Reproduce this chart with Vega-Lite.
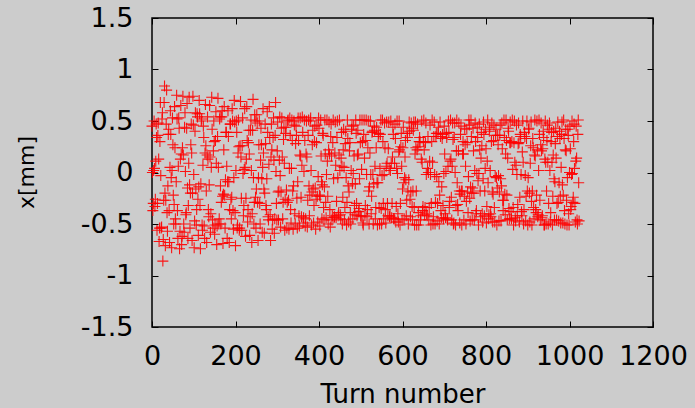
{
  "$schema": "https://vega.github.io/schema/vega-lite/v6.json",
  "width": 501,
  "height": 309,
  "autosize": {"type": "none"},
  "padding": {"left": 152, "top": 18, "right": 42, "bottom": 81},
  "background": "#cccccc",
  "config": {
    "view": {"stroke": "#000000", "strokeWidth": 1.5},
    "font": "DejaVu Sans",
    "axis": {
      "grid": false,
      "domain": false,
      "tickColor": "#000000",
      "tickWidth": 1,
      "tickSize": -6,
      "labelFont": "DejaVu Sans",
      "labelFontSize": 27,
      "labelColor": "#000000",
      "labelFlush": false,
      "labelOverlap": false,
      "titleFont": "DejaVu Sans",
      "titleFontWeight": "normal",
      "titleColor": "#000000"
    }
  },
  "data": {"values": [
{"turn":0,"x":0.45},{"turn":1,"x":0.00},{"turn":2,"x":-0.37},{"turn":3,"x":-0.30},{"turn":4,"x":0.02},
{"turn":5,"x":0.50},{"turn":6,"x":0.04},{"turn":7,"x":-0.33},{"turn":8,"x":-0.26},{"turn":9,"x":0.11},
{"turn":10,"x":0.47},{"turn":11,"x":0.34},{"turn":12,"x":-0.56},{"turn":13,"x":-0.30},{"turn":14,"x":0.36},
{"turn":15,"x":0.48},{"turn":16,"x":0.13},{"turn":17,"x":-0.67},{"turn":18,"x":-0.54},{"turn":19,"x":0.30},
{"turn":20,"x":0.68},{"turn":21,"x":-0.03},{"turn":22,"x":-0.54},{"turn":23,"x":-0.53},{"turn":24,"x":0.52},
{"turn":25,"x":0.58},{"turn":26,"x":-0.86},{"turn":27,"x":-0.65},{"turn":28,"x":-0.27},{"turn":29,"x":0.68},
{"turn":30,"x":0.84},{"turn":31,"x":-0.20},{"turn":32,"x":-0.71},{"turn":33,"x":-0.27},{"turn":34,"x":0.47},
{"turn":35,"x":0.80},{"turn":36,"x":-0.39},{"turn":37,"x":-0.57},{"turn":38,"x":-0.13},{"turn":39,"x":0.37},
{"turn":40,"x":0.42},{"turn":41,"x":-0.37},{"turn":42,"x":-0.68},{"turn":43,"x":0.05},{"turn":44,"x":0.60},
{"turn":45,"x":0.37},{"turn":46,"x":-0.05},{"turn":47,"x":-0.73},{"turn":48,"x":0.02},{"turn":49,"x":0.53},
{"turn":50,"x":0.27},{"turn":51,"x":-0.22},{"turn":52,"x":-0.50},{"turn":53,"x":-0.31},{"turn":54,"x":0.64},
{"turn":55,"x":0.24},{"turn":56,"x":-0.45},{"turn":57,"x":-0.50},{"turn":58,"x":-0.09},{"turn":59,"x":0.75},
{"turn":60,"x":0.52},{"turn":61,"x":-0.37},{"turn":62,"x":-0.64},{"turn":63,"x":0.06},{"turn":64,"x":0.53},
{"turn":65,"x":0.43},{"turn":66,"x":-0.74},{"turn":67,"x":-0.57},{"turn":68,"x":0.13},{"turn":69,"x":0.65},
{"turn":70,"x":0.18},{"turn":71,"x":-0.70},{"turn":72,"x":-0.62},{"turn":73,"x":0.24},{"turn":74,"x":0.74},
{"turn":75,"x":0.17},{"turn":76,"x":-0.50},{"turn":77,"x":-0.58},{"turn":78,"x":0.44},{"turn":79,"x":0.58},
{"turn":80,"x":0.01},{"turn":81,"x":-0.41},{"turn":82,"x":-0.39},{"turn":83,"x":0.43},{"turn":84,"x":0.67},
{"turn":85,"x":-0.15},{"turn":86,"x":-0.64},{"turn":87,"x":-0.32},{"turn":88,"x":0.09},{"turn":89,"x":0.73},
{"turn":90,"x":-0.12},{"turn":91,"x":-0.54},{"turn":92,"x":-0.20},{"turn":93,"x":0.27},{"turn":94,"x":0.47},
{"turn":95,"x":0.19},{"turn":96,"x":-0.66},{"turn":97,"x":-0.20},{"turn":98,"x":0.74},{"turn":99,"x":0.46},
{"turn":100,"x":-0.02},{"turn":101,"x":-0.73},{"turn":102,"x":-0.47},{"turn":103,"x":0.40},{"turn":104,"x":0.58},
{"turn":105,"x":-0.16},{"turn":106,"x":-0.51},{"turn":107,"x":-0.36},{"turn":108,"x":0.57},{"turn":109,"x":0.54},
{"turn":110,"x":-0.26},{"turn":111,"x":-0.61},{"turn":112,"x":-0.14},{"turn":113,"x":0.70},{"turn":114,"x":0.57},
{"turn":115,"x":-0.32},{"turn":116,"x":-0.74},{"turn":117,"x":-0.11},{"turn":118,"x":0.50},{"turn":119,"x":0.52},
{"turn":120,"x":-0.51},{"turn":121,"x":-0.56},{"turn":122,"x":0.07},{"turn":123,"x":0.45},{"turn":124,"x":0.34},
{"turn":125,"x":-0.52},{"turn":126,"x":-0.64},{"turn":127,"x":0.19},{"turn":128,"x":0.66},{"turn":129,"x":0.26},
{"turn":130,"x":-0.18},{"turn":131,"x":-0.68},{"turn":132,"x":0.17},{"turn":133,"x":0.54},{"turn":134,"x":0.13},
{"turn":135,"x":-0.36},{"turn":136,"x":-0.43},{"turn":137,"x":-0.12},{"turn":138,"x":0.65},{"turn":139,"x":0.15},
{"turn":140,"x":-0.58},{"turn":141,"x":-0.40},{"turn":142,"x":0.05},{"turn":143,"x":0.73},{"turn":144,"x":0.42},
{"turn":145,"x":-0.46},{"turn":146,"x":-0.54},{"turn":147,"x":0.21},{"turn":148,"x":0.50},{"turn":149,"x":0.30},
{"turn":150,"x":-0.60},{"turn":151,"x":-0.51},{"turn":152,"x":0.31},{"turn":153,"x":0.59},{"turn":154,"x":0.09},
{"turn":155,"x":-0.70},{"turn":156,"x":-0.52},{"turn":157,"x":0.35},{"turn":158,"x":0.72},{"turn":159,"x":0.05},
{"turn":160,"x":-0.50},{"turn":161,"x":-0.45},{"turn":162,"x":0.52},{"turn":163,"x":0.54},{"turn":164,"x":-0.13},
{"turn":165,"x":-0.50},{"turn":166,"x":-0.29},{"turn":167,"x":0.54},{"turn":168,"x":0.60},{"turn":169,"x":-0.23},
{"turn":170,"x":-0.69},{"turn":171,"x":-0.21},{"turn":172,"x":0.22},{"turn":173,"x":0.64},{"turn":174,"x":-0.22},
{"turn":175,"x":-0.54},{"turn":176,"x":-0.07},{"turn":177,"x":0.39},{"turn":178,"x":0.39},{"turn":179,"x":0.06},
{"turn":180,"x":-0.64},{"turn":181,"x":-0.09},{"turn":182,"x":0.60},{"turn":183,"x":0.35},{"turn":184,"x":-0.09},
{"turn":185,"x":-0.68},{"turn":186,"x":-0.36},{"turn":187,"x":0.47},{"turn":188,"x":0.47},{"turn":189,"x":-0.26},
{"turn":190,"x":-0.45},{"turn":191,"x":-0.24},{"turn":192,"x":0.62},{"turn":193,"x":0.50},{"turn":194,"x":-0.37},
{"turn":195,"x":-0.55},{"turn":196,"x":-0.05},{"turn":197,"x":0.70},{"turn":198,"x":0.49},{"turn":199,"x":-0.39},
{"turn":200,"x":-0.71},{"turn":201,"x":0.02},{"turn":202,"x":0.50},{"turn":203,"x":0.39},{"turn":204,"x":-0.54},
{"turn":205,"x":-0.51},{"turn":206,"x":0.19},{"turn":207,"x":0.51},{"turn":208,"x":0.25},{"turn":209,"x":-0.56},
{"turn":210,"x":-0.54},{"turn":211,"x":0.26},{"turn":212,"x":0.69},{"turn":213,"x":0.15},{"turn":214,"x":-0.25},
{"turn":215,"x":-0.56},{"turn":216,"x":0.26},{"turn":217,"x":0.53},{"turn":218,"x":-0.01},{"turn":219,"x":-0.42},
{"turn":220,"x":-0.32},{"turn":221,"x":0.03},{"turn":222,"x":0.62},{"turn":223,"x":0.05},{"turn":224,"x":-0.62},
{"turn":225,"x":-0.25},{"turn":226,"x":0.13},{"turn":227,"x":0.64},{"turn":228,"x":0.31},{"turn":229,"x":-0.48},
{"turn":230,"x":-0.36},{"turn":231,"x":0.29},{"turn":232,"x":0.41},{"turn":233,"x":0.18},{"turn":234,"x":-0.61},
{"turn":235,"x":-0.43},{"turn":236,"x":0.41},{"turn":237,"x":0.51},{"turn":238,"x":0.02},{"turn":239,"x":-0.68},
{"turn":240,"x":-0.40},{"turn":241,"x":0.41},{"turn":242,"x":0.71},{"turn":243,"x":-0.05},{"turn":244,"x":-0.50},
{"turn":245,"x":-0.29},{"turn":246,"x":0.56},{"turn":247,"x":0.50},{"turn":248,"x":-0.24},{"turn":249,"x":-0.54},
{"turn":250,"x":-0.16},{"turn":251,"x":0.56},{"turn":252,"x":0.48},{"turn":253,"x":-0.29},{"turn":254,"x":-0.66},
{"turn":255,"x":-0.05},{"turn":256,"x":0.27},{"turn":257,"x":0.50},{"turn":258,"x":-0.30},{"turn":259,"x":-0.50},
{"turn":260,"x":0.12},{"turn":261,"x":0.43},{"turn":262,"x":0.27},{"turn":263,"x":-0.06},{"turn":264,"x":-0.58},
{"turn":265,"x":0.05},{"turn":266,"x":0.62},{"turn":267,"x":0.19},{"turn":268,"x":-0.16},{"turn":269,"x":-0.59},
{"turn":270,"x":-0.20},{"turn":271,"x":0.47},{"turn":272,"x":0.28},{"turn":273,"x":-0.32},{"turn":274,"x":-0.36},
{"turn":275,"x":-0.06},{"turn":276,"x":0.59},{"turn":277,"x":0.39},{"turn":278,"x":-0.43},{"turn":279,"x":-0.46},
{"turn":280,"x":0.08},{"turn":281,"x":0.64},{"turn":282,"x":0.34},{"turn":283,"x":-0.41},{"turn":284,"x":-0.66},
{"turn":285,"x":0.15},{"turn":286,"x":0.47},{"turn":287,"x":0.22},{"turn":288,"x":-0.55},{"turn":289,"x":-0.46},
{"turn":290,"x":0.34},{"turn":291,"x":0.53},{"turn":292,"x":0.12},{"turn":293,"x":-0.59},{"turn":294,"x":-0.45},
{"turn":295,"x":0.36},{"turn":296,"x":0.68},{"turn":297,"x":0.01},{"turn":298,"x":-0.30},{"turn":299,"x":-0.46},
{"turn":300,"x":0.21},{"turn":301,"x":0.49},{"turn":302,"x":-0.19},{"turn":303,"x":-0.46},{"turn":304,"x":-0.18},
{"turn":305,"x":0.12},{"turn":306,"x":0.54},{"turn":307,"x":-0.03},{"turn":308,"x":-0.53},{"turn":309,"x":-0.19},
{"turn":310,"x":0.43},{"turn":311,"x":0.53},{"turn":312,"x":0.15},{"turn":313,"x":-0.45},{"turn":314,"x":-0.29},
{"turn":315,"x":0.32},{"turn":316,"x":0.44},{"turn":317,"x":0.09},{"turn":318,"x":-0.56},{"turn":319,"x":-0.26},
{"turn":320,"x":0.38},{"turn":321,"x":0.44},{"turn":322,"x":-0.17},{"turn":323,"x":-0.54},{"turn":324,"x":-0.29},
{"turn":325,"x":0.50},{"turn":326,"x":0.51},{"turn":327,"x":-0.27},{"turn":328,"x":-0.55},{"turn":329,"x":0.04},
{"turn":330,"x":0.53},{"turn":331,"x":0.36},{"turn":332,"x":-0.36},{"turn":333,"x":-0.49},{"turn":334,"x":0.04},
{"turn":335,"x":0.51},{"turn":336,"x":0.31},{"turn":337,"x":-0.18},{"turn":338,"x":-0.55},{"turn":339,"x":-0.13},
{"turn":340,"x":0.50},{"turn":341,"x":0.46},{"turn":342,"x":-0.40},{"turn":343,"x":-0.50},{"turn":344,"x":0.28},
{"turn":345,"x":0.45},{"turn":346,"x":0.36},{"turn":347,"x":-0.25},{"turn":348,"x":-0.54},{"turn":349,"x":-0.09},
{"turn":350,"x":0.53},{"turn":351,"x":0.31},{"turn":352,"x":-0.42},{"turn":353,"x":-0.52},{"turn":354,"x":0.17},
{"turn":355,"x":0.53},{"turn":356,"x":0.16},{"turn":357,"x":-0.24},{"turn":358,"x":-0.43},{"turn":359,"x":0.07},
{"turn":360,"x":0.54},{"turn":361,"x":0.39},{"turn":362,"x":-0.49},{"turn":363,"x":-0.44},{"turn":364,"x":0.01},
{"turn":365,"x":0.51},{"turn":366,"x":0.31},{"turn":367,"x":-0.52},{"turn":368,"x":-0.45},{"turn":369,"x":0.18},
{"turn":370,"x":0.50},{"turn":371,"x":0.15},{"turn":372,"x":-0.53},{"turn":373,"x":-0.27},{"turn":374,"x":0.36},
{"turn":375,"x":0.51},{"turn":376,"x":-0.13},{"turn":377,"x":-0.42},{"turn":378,"x":-0.22},{"turn":379,"x":0.50},
{"turn":380,"x":0.53},{"turn":381,"x":0.02},{"turn":382,"x":-0.51},{"turn":383,"x":-0.19},{"turn":384,"x":0.27},
{"turn":385,"x":0.41},{"turn":386,"x":-0.16},{"turn":387,"x":-0.49},{"turn":388,"x":-0.32},{"turn":389,"x":0.30},
{"turn":390,"x":0.45},{"turn":391,"x":-0.15},{"turn":392,"x":-0.55},{"turn":393,"x":-0.26},{"turn":394,"x":0.29},
{"turn":395,"x":0.46},{"turn":396,"x":-0.23},{"turn":397,"x":-0.48},{"turn":398,"x":-0.04},{"turn":399,"x":0.53},
{"turn":400,"x":0.43},{"turn":401,"x":-0.22},{"turn":402,"x":-0.52},{"turn":403,"x":-0.23},{"turn":404,"x":0.51},
{"turn":405,"x":0.16},{"turn":406,"x":-0.09},{"turn":407,"x":-0.45},{"turn":408,"x":-0.12},{"turn":409,"x":0.38},
{"turn":410,"x":0.36},{"turn":411,"x":-0.34},{"turn":412,"x":-0.46},{"turn":413,"x":-0.14},{"turn":414,"x":0.51},
{"turn":415,"x":0.18},{"turn":416,"x":-0.29},{"turn":417,"x":-0.44},{"turn":418,"x":-0.02},{"turn":419,"x":0.51},
{"turn":420,"x":0.11},{"turn":421,"x":-0.23},{"turn":422,"x":-0.50},{"turn":423,"x":0.22},{"turn":424,"x":0.49},
{"turn":425,"x":0.18},{"turn":426,"x":-0.36},{"turn":427,"x":-0.53},{"turn":428,"x":0.35},{"turn":429,"x":0.47},
{"turn":430,"x":0.16},{"turn":431,"x":-0.46},{"turn":432,"x":-0.42},{"turn":433,"x":0.29},{"turn":434,"x":0.51},
{"turn":435,"x":-0.06},{"turn":436,"x":-0.44},{"turn":437,"x":-0.43},{"turn":438,"x":0.19},{"turn":439,"x":0.49},
{"turn":440,"x":0.07},{"turn":441,"x":-0.44},{"turn":442,"x":-0.28},{"turn":443,"x":0.34},{"turn":444,"x":0.50},
{"turn":445,"x":-0.05},{"turn":446,"x":-0.42},{"turn":447,"x":-0.39},{"turn":448,"x":0.17},{"turn":449,"x":0.51},
{"turn":450,"x":0.02},{"turn":451,"x":-0.41},{"turn":452,"x":-0.45},{"turn":453,"x":0.14},{"turn":454,"x":0.39},
{"turn":455,"x":0.06},{"turn":456,"x":-0.50},{"turn":457,"x":-0.24},{"turn":458,"x":0.22},{"turn":459,"x":0.42},
{"turn":460,"x":0.05},{"turn":461,"x":-0.46},{"turn":462,"x":-0.34},{"turn":463,"x":0.28},{"turn":464,"x":0.40},
{"turn":465,"x":-0.05},{"turn":466,"x":-0.51},{"turn":467,"x":-0.29},{"turn":468,"x":0.51},{"turn":469,"x":0.33},
{"turn":470,"x":-0.13},{"turn":471,"x":-0.48},{"turn":472,"x":-0.19},{"turn":473,"x":0.21},{"turn":474,"x":0.29},
{"turn":475,"x":-0.39},{"turn":476,"x":-0.50},{"turn":477,"x":0.02},{"turn":478,"x":0.42},{"turn":479,"x":0.45},
{"turn":480,"x":-0.11},{"turn":481,"x":-0.45},{"turn":482,"x":-0.01},{"turn":483,"x":0.46},{"turn":484,"x":0.16},
{"turn":485,"x":-0.32},{"turn":486,"x":-0.41},{"turn":487,"x":-0.11},{"turn":488,"x":0.51},{"turn":489,"x":0.38},
{"turn":490,"x":-0.30},{"turn":491,"x":-0.42},{"turn":492,"x":0.17},{"turn":493,"x":0.41},{"turn":494,"x":0.18},
{"turn":495,"x":-0.38},{"turn":496,"x":-0.35},{"turn":497,"x":-0.06},{"turn":498,"x":0.51},{"turn":499,"x":0.29},
{"turn":500,"x":-0.42},{"turn":501,"x":-0.43},{"turn":502,"x":0.03},{"turn":503,"x":0.51},{"turn":504,"x":0.30},
{"turn":505,"x":-0.49},{"turn":506,"x":-0.51},{"turn":507,"x":0.37},{"turn":508,"x":0.51},{"turn":509,"x":0.14},
{"turn":510,"x":-0.42},{"turn":511,"x":-0.32},{"turn":512,"x":0.31},{"turn":513,"x":0.51},{"turn":514,"x":-0.02},
{"turn":515,"x":-0.43},{"turn":516,"x":-0.36},{"turn":517,"x":0.24},{"turn":518,"x":0.50},{"turn":519,"x":-0.18},
{"turn":520,"x":-0.50},{"turn":521,"x":-0.14},{"turn":522,"x":0.19},{"turn":523,"x":0.50},{"turn":524,"x":-0.02},
{"turn":525,"x":-0.40},{"turn":526,"x":-0.23},{"turn":527,"x":0.39},{"turn":528,"x":0.40},{"turn":529,"x":-0.02},
{"turn":530,"x":-0.50},{"turn":531,"x":-0.11},{"turn":532,"x":0.45},{"turn":533,"x":0.41},{"turn":534,"x":0.06},
{"turn":535,"x":-0.45},{"turn":536,"x":-0.34},{"turn":537,"x":0.24},{"turn":538,"x":0.44},{"turn":539,"x":-0.10},
{"turn":540,"x":-0.51},{"turn":541,"x":-0.10},{"turn":542,"x":0.35},{"turn":543,"x":0.38},{"turn":544,"x":-0.34},
{"turn":545,"x":-0.50},{"turn":546,"x":0.04},{"turn":547,"x":0.37},{"turn":548,"x":0.51},{"turn":549,"x":-0.35},
{"turn":550,"x":-0.50},{"turn":551,"x":-0.03},{"turn":552,"x":0.51},{"turn":553,"x":0.30},{"turn":554,"x":-0.30},
{"turn":555,"x":-0.45},{"turn":556,"x":-0.02},{"turn":557,"x":0.48},{"turn":558,"x":0.24},{"turn":559,"x":-0.36},
{"turn":560,"x":-0.49},{"turn":561,"x":0.06},{"turn":562,"x":0.49},{"turn":563,"x":0.09},{"turn":564,"x":-0.30},
{"turn":565,"x":-0.42},{"turn":566,"x":0.23},{"turn":567,"x":0.49},{"turn":568,"x":0.04},{"turn":569,"x":-0.43},
{"turn":570,"x":-0.42},{"turn":571,"x":0.02},{"turn":572,"x":0.50},{"turn":573,"x":0.09},{"turn":574,"x":-0.44},
{"turn":575,"x":-0.30},{"turn":576,"x":0.15},{"turn":577,"x":0.44},{"turn":578,"x":0.37},{"turn":579,"x":-0.45},
{"turn":580,"x":-0.45},{"turn":581,"x":0.09},{"turn":582,"x":0.47},{"turn":583,"x":0.33},{"turn":584,"x":-0.48},
{"turn":585,"x":-0.33},{"turn":586,"x":0.04},{"turn":587,"x":0.50},{"turn":588,"x":-0.01},{"turn":589,"x":-0.40},
{"turn":590,"x":-0.48},{"turn":591,"x":0.20},{"turn":592,"x":0.50},{"turn":593,"x":0.22},{"turn":594,"x":-0.51},
{"turn":595,"x":-0.30},{"turn":596,"x":0.25},{"turn":597,"x":0.38},{"turn":598,"x":0.06},{"turn":599,"x":-0.46},
{"turn":600,"x":-0.16},{"turn":601,"x":0.24},{"turn":602,"x":0.44},{"turn":603,"x":-0.10},{"turn":604,"x":-0.45},
{"turn":605,"x":-0.05},{"turn":606,"x":0.15},{"turn":607,"x":0.31},{"turn":608,"x":-0.07},{"turn":609,"x":-0.42},
{"turn":610,"x":-0.27},{"turn":611,"x":0.38},{"turn":612,"x":0.34},{"turn":613,"x":-0.18},{"turn":614,"x":-0.50},
{"turn":615,"x":-0.07},{"turn":616,"x":0.49},{"turn":617,"x":0.40},{"turn":618,"x":-0.26},{"turn":619,"x":-0.43},
{"turn":620,"x":-0.19},{"turn":621,"x":0.48},{"turn":622,"x":0.43},{"turn":623,"x":-0.33},{"turn":624,"x":-0.46},
{"turn":625,"x":-0.18},{"turn":626,"x":0.41},{"turn":627,"x":0.49},{"turn":628,"x":-0.34},{"turn":629,"x":-0.51},
{"turn":630,"x":0.18},{"turn":631,"x":0.49},{"turn":632,"x":0.24},{"turn":633,"x":-0.18},{"turn":634,"x":-0.51},
{"turn":635,"x":0.22},{"turn":636,"x":0.47},{"turn":637,"x":0.25},{"turn":638,"x":-0.39},{"turn":639,"x":-0.51},
{"turn":640,"x":0.30},{"turn":641,"x":0.34},{"turn":642,"x":0.30},{"turn":643,"x":-0.46},{"turn":644,"x":-0.42},
{"turn":645,"x":0.13},{"turn":646,"x":0.50},{"turn":647,"x":0.10},{"turn":648,"x":-0.37},{"turn":649,"x":-0.33},
{"turn":650,"x":0.30},{"turn":651,"x":0.51},{"turn":652,"x":0.22},{"turn":653,"x":-0.41},{"turn":654,"x":-0.34},
{"turn":655,"x":0.29},{"turn":656,"x":0.48},{"turn":657,"x":-0.02},{"turn":658,"x":-0.40},{"turn":659,"x":-0.42},
{"turn":660,"x":0.04},{"turn":661,"x":0.35},{"turn":662,"x":0.00},{"turn":663,"x":-0.46},{"turn":664,"x":-0.34},
{"turn":665,"x":0.11},{"turn":666,"x":0.46},{"turn":667,"x":-0.02},{"turn":668,"x":-0.51},{"turn":669,"x":-0.30},
{"turn":670,"x":0.30},{"turn":671,"x":0.51},{"turn":672,"x":0.10},{"turn":673,"x":-0.50},{"turn":674,"x":-0.43},
{"turn":675,"x":0.35},{"turn":676,"x":0.49},{"turn":677,"x":-0.02},{"turn":678,"x":-0.50},{"turn":679,"x":-0.29},
{"turn":680,"x":0.35},{"turn":681,"x":0.38},{"turn":682,"x":-0.04},{"turn":683,"x":-0.47},{"turn":684,"x":-0.30},
{"turn":685,"x":0.38},{"turn":686,"x":0.44},{"turn":687,"x":-0.09},{"turn":688,"x":-0.50},{"turn":689,"x":-0.22},
{"turn":690,"x":0.49},{"turn":691,"x":0.35},{"turn":692,"x":-0.37},{"turn":693,"x":-0.44},{"turn":694,"x":-0.14},
{"turn":695,"x":0.33},{"turn":696,"x":0.37},{"turn":697,"x":-0.32},{"turn":698,"x":-0.45},{"turn":699,"x":-0.01},
{"turn":700,"x":0.45},{"turn":701,"x":0.18},{"turn":702,"x":-0.40},{"turn":703,"x":-0.44},{"turn":704,"x":0.01},
{"turn":705,"x":0.38},{"turn":706,"x":0.34},{"turn":707,"x":-0.45},{"turn":708,"x":-0.46},{"turn":709,"x":0.06},
{"turn":710,"x":0.50},{"turn":711,"x":0.39},{"turn":712,"x":-0.34},{"turn":713,"x":-0.28},{"turn":714,"x":0.11},
{"turn":715,"x":0.51},{"turn":716,"x":0.13},{"turn":717,"x":-0.24},{"turn":718,"x":-0.46},{"turn":719,"x":0.06},
{"turn":720,"x":0.48},{"turn":721,"x":0.32},{"turn":722,"x":-0.50},{"turn":723,"x":-0.49},{"turn":724,"x":0.34},
{"turn":725,"x":0.48},{"turn":726,"x":0.00},{"turn":727,"x":-0.51},{"turn":728,"x":-0.32},{"turn":729,"x":0.21},
{"turn":730,"x":0.51},{"turn":731,"x":-0.10},{"turn":732,"x":-0.31},{"turn":733,"x":-0.37},{"turn":734,"x":0.21},
{"turn":735,"x":0.48},{"turn":736,"x":-0.18},{"turn":737,"x":-0.49},{"turn":738,"x":-0.21},{"turn":739,"x":0.37},
{"turn":740,"x":0.45},{"turn":741,"x":-0.18},{"turn":742,"x":-0.51},{"turn":743,"x":-0.18},{"turn":744,"x":0.18},
{"turn":745,"x":0.30},{"turn":746,"x":0.18},{"turn":747,"x":-0.46},{"turn":748,"x":-0.23},{"turn":749,"x":0.43},
{"turn":750,"x":0.27},{"turn":751,"x":0.06},{"turn":752,"x":-0.50},{"turn":753,"x":-0.28},{"turn":754,"x":0.42},
{"turn":755,"x":0.29},{"turn":756,"x":-0.19},{"turn":757,"x":-0.39},{"turn":758,"x":-0.04},{"turn":759,"x":0.51},
{"turn":760,"x":0.46},{"turn":761,"x":-0.25},{"turn":762,"x":-0.47},{"turn":763,"x":-0.14},{"turn":764,"x":0.51},
{"turn":765,"x":0.35},{"turn":766,"x":-0.20},{"turn":767,"x":-0.46},{"turn":768,"x":-0.15},{"turn":769,"x":0.43},
{"turn":770,"x":0.21},{"turn":771,"x":-0.20},{"turn":772,"x":-0.46},{"turn":773,"x":0.02},{"turn":774,"x":0.48},
{"turn":775,"x":0.30},{"turn":776,"x":-0.40},{"turn":777,"x":-0.37},{"turn":778,"x":-0.01},{"turn":779,"x":0.44},
{"turn":780,"x":0.34},{"turn":781,"x":-0.08},{"turn":782,"x":-0.51},{"turn":783,"x":-0.01},{"turn":784,"x":0.47},
{"turn":785,"x":0.22},{"turn":786,"x":-0.18},{"turn":787,"x":-0.43},{"turn":788,"x":0.14},{"turn":789,"x":0.39},
{"turn":790,"x":0.26},{"turn":791,"x":-0.40},{"turn":792,"x":-0.48},{"turn":793,"x":-0.06},{"turn":794,"x":0.49},
{"turn":795,"x":0.37},{"turn":796,"x":-0.42},{"turn":797,"x":-0.18},{"turn":798,"x":0.04},{"turn":799,"x":0.42},
{"turn":800,"x":0.23},{"turn":801,"x":-0.49},{"turn":802,"x":-0.33},{"turn":803,"x":0.11},{"turn":804,"x":0.51},
{"turn":805,"x":-0.10},{"turn":806,"x":-0.45},{"turn":807,"x":-0.41},{"turn":808,"x":0.40},{"turn":809,"x":0.44},
{"turn":810,"x":0.02},{"turn":811,"x":-0.40},{"turn":812,"x":-0.43},{"turn":813,"x":0.30},{"turn":814,"x":0.48},
{"turn":815,"x":-0.19},{"turn":816,"x":-0.48},{"turn":817,"x":-0.21},{"turn":818,"x":0.31},{"turn":819,"x":0.46},
{"turn":820,"x":-0.34},{"turn":821,"x":-0.48},{"turn":822,"x":-0.04},{"turn":823,"x":0.36},{"turn":824,"x":0.42},
{"turn":825,"x":-0.05},{"turn":826,"x":-0.51},{"turn":827,"x":-0.15},{"turn":828,"x":0.36},{"turn":829,"x":0.27},
{"turn":830,"x":-0.03},{"turn":831,"x":-0.47},{"turn":832,"x":-0.19},{"turn":833,"x":0.36},{"turn":834,"x":0.46},
{"turn":835,"x":-0.06},{"turn":836,"x":-0.47},{"turn":837,"x":-0.13},{"turn":838,"x":0.48},{"turn":839,"x":0.23},
{"turn":840,"x":-0.27},{"turn":841,"x":-0.37},{"turn":842,"x":-0.27},{"turn":843,"x":0.51},{"turn":844,"x":0.34},
{"turn":845,"x":-0.21},{"turn":846,"x":-0.41},{"turn":847,"x":0.18},{"turn":848,"x":0.51},{"turn":849,"x":0.31},
{"turn":850,"x":-0.22},{"turn":851,"x":-0.46},{"turn":852,"x":0.14},{"turn":853,"x":0.43},{"turn":854,"x":0.40},
{"turn":855,"x":-0.35},{"turn":856,"x":-0.45},{"turn":857,"x":0.29},{"turn":858,"x":0.49},{"turn":859,"x":0.29},
{"turn":860,"x":-0.38},{"turn":861,"x":-0.45},{"turn":862,"x":0.30},{"turn":863,"x":0.51},{"turn":864,"x":0.03},
{"turn":865,"x":-0.34},{"turn":866,"x":-0.51},{"turn":867,"x":0.29},{"turn":868,"x":0.50},{"turn":869,"x":0.10},
{"turn":870,"x":-0.44},{"turn":871,"x":-0.47},{"turn":872,"x":0.07},{"turn":873,"x":0.46},{"turn":874,"x":-0.02},
{"turn":875,"x":-0.42},{"turn":876,"x":-0.31},{"turn":877,"x":0.28},{"turn":878,"x":0.48},{"turn":879,"x":0.29},
{"turn":880,"x":-0.48},{"turn":881,"x":-0.24},{"turn":882,"x":0.37},{"turn":883,"x":0.35},{"turn":884,"x":-0.02},
{"turn":885,"x":-0.38},{"turn":886,"x":-0.42},{"turn":887,"x":0.20},{"turn":888,"x":0.50},{"turn":889,"x":0.10},
{"turn":890,"x":-0.50},{"turn":891,"x":-0.36},{"turn":892,"x":0.39},{"turn":893,"x":0.35},{"turn":894,"x":-0.03},
{"turn":895,"x":-0.47},{"turn":896,"x":-0.23},{"turn":897,"x":0.33},{"turn":898,"x":0.50},{"turn":899,"x":-0.18},
{"turn":900,"x":-0.51},{"turn":901,"x":-0.05},{"turn":902,"x":0.42},{"turn":903,"x":0.43},{"turn":904,"x":-0.20},
{"turn":905,"x":-0.48},{"turn":906,"x":0.09},{"turn":907,"x":0.26},{"turn":908,"x":0.49},{"turn":909,"x":-0.28},
{"turn":910,"x":-0.51},{"turn":911,"x":-0.18},{"turn":912,"x":0.33},{"turn":913,"x":0.24},{"turn":914,"x":-0.34},
{"turn":915,"x":-0.45},{"turn":916,"x":0.17},{"turn":917,"x":0.51},{"turn":918,"x":0.16},{"turn":919,"x":-0.36},
{"turn":920,"x":-0.39},{"turn":921,"x":-0.22},{"turn":922,"x":0.50},{"turn":923,"x":0.22},{"turn":924,"x":-0.43},
{"turn":925,"x":-0.41},{"turn":926,"x":0.02},{"turn":927,"x":0.51},{"turn":928,"x":0.37},{"turn":929,"x":-0.27},
{"turn":930,"x":-0.46},{"turn":931,"x":0.27},{"turn":932,"x":0.48},{"turn":933,"x":0.21},{"turn":934,"x":-0.44},
{"turn":935,"x":-0.42},{"turn":936,"x":0.23},{"turn":937,"x":0.40},{"turn":938,"x":0.34},{"turn":939,"x":-0.51},
{"turn":940,"x":-0.51},{"turn":941,"x":0.13},{"turn":942,"x":0.50},{"turn":943,"x":0.10},{"turn":944,"x":-0.50},
{"turn":945,"x":-0.18},{"turn":946,"x":0.31},{"turn":947,"x":0.46},{"turn":948,"x":0.10},{"turn":949,"x":-0.50},
{"turn":950,"x":-0.30},{"turn":951,"x":0.42},{"turn":952,"x":0.48},{"turn":953,"x":0.02},{"turn":954,"x":-0.48},
{"turn":955,"x":-0.39},{"turn":956,"x":0.30},{"turn":957,"x":0.39},{"turn":958,"x":0.10},{"turn":959,"x":-0.51},
{"turn":960,"x":-0.23},{"turn":961,"x":0.17},{"turn":962,"x":0.40},{"turn":963,"x":-0.06},{"turn":964,"x":-0.46},
{"turn":965,"x":-0.09},{"turn":966,"x":0.28},{"turn":967,"x":0.43},{"turn":968,"x":0.14},{"turn":969,"x":-0.46},
{"turn":970,"x":-0.30},{"turn":971,"x":0.35},{"turn":972,"x":0.49},{"turn":973,"x":-0.29},{"turn":974,"x":-0.47},
{"turn":975,"x":-0.10},{"turn":976,"x":0.40},{"turn":977,"x":0.33},{"turn":978,"x":-0.23},{"turn":979,"x":-0.49},
{"turn":980,"x":0.05},{"turn":981,"x":0.37},{"turn":982,"x":0.49},{"turn":983,"x":-0.12},{"turn":984,"x":-0.49},
{"turn":985,"x":-0.22},{"turn":986,"x":0.51},{"turn":987,"x":0.33},{"turn":988,"x":-0.37},{"turn":989,"x":-0.50},
{"turn":990,"x":0.22},{"turn":991,"x":0.42},{"turn":992,"x":0.21},{"turn":993,"x":-0.27},{"turn":994,"x":-0.51},
{"turn":995,"x":-0.05},{"turn":996,"x":0.42},{"turn":997,"x":0.36},{"turn":998,"x":-0.40},{"turn":999,"x":-0.51},
{"turn":1000,"x":0.00},{"turn":1001,"x":0.45},{"turn":1002,"x":0.23},{"turn":1003,"x":-0.36},{"turn":1004,"x":-0.33},
{"turn":1005,"x":-0.02},{"turn":1006,"x":0.50},{"turn":1007,"x":-0.01},{"turn":1008,"x":-0.29},{"turn":1009,"x":-0.24},
{"turn":1010,"x":0.30},{"turn":1011,"x":0.47},{"turn":1012,"x":0.04},{"turn":1013,"x":-0.30},{"turn":1014,"x":-0.48},
{"turn":1015,"x":0.11},{"turn":1016,"x":0.45},{"turn":1017,"x":0.14},{"turn":1018,"x":-0.46},{"turn":1019,"x":-0.50},
{"turn":1020,"x":0.37},{"turn":1021,"x":0.51},{"turn":1022,"x":-0.10},{"turn":1023,"x":-0.47}
  ]},
  "layer": [
    {
      "mark": {
        "type": "point",
        "shape": "M-1,0H1M0,-1V1",
        "size": 121,
        "filled": false,
        "stroke": "#ff0000",
        "strokeWidth": 1.1,
        "opacity": 0.9
      },
      "encoding": {
        "x": {
          "field": "turn",
          "type": "quantitative",
          "scale": {"domain": [0, 1200], "nice": false, "zero": false},
          "axis": {
            "orient": "bottom",
            "values": [0, 200, 400, 600, 800, 1000, 1200],
            "labelExpr": "'' + datum.value",
            "labelPadding": 22,
            "title": "Turn number",
            "titleFontSize": 26,
            "titleY": 75,
            "titleBaseline": "alphabetic"
          }
        },
        "y": {
          "field": "x",
          "type": "quantitative",
          "scale": {"domain": [-1.5, 1.5], "nice": false, "zero": false},
          "axis": {
            "orient": "left",
            "values": [-1.5, -1, -0.5, 0, 0.5, 1, 1.5],
            "labelExpr": "'' + datum.value",
            "labelPadding": 25,
            "title": "x[mm]",
            "titleFontSize": 22,
            "titleX": -126,
            "titleY": 154,
            "titleAngle": -90,
            "titleAlign": "center",
            "titleBaseline": "middle"
          }
        }
      }
    },
    {
      "mark": {"type": "point", "opacity": 0},
      "encoding": {
        "x": {
          "field": "turn",
          "type": "quantitative",
          "axis": {
            "orient": "top",
            "values": [0, 200, 400, 600, 800, 1000, 1200],
            "labels": false,
            "title": null
          }
        },
        "y": {
          "field": "x",
          "type": "quantitative",
          "axis": {
            "orient": "right",
            "values": [-1.5, -1, -0.5, 0, 0.5, 1, 1.5],
            "labels": false,
            "title": null
          }
        }
      }
    }
  ],
  "resolve": {"axis": {"x": "independent", "y": "independent"}}
}
